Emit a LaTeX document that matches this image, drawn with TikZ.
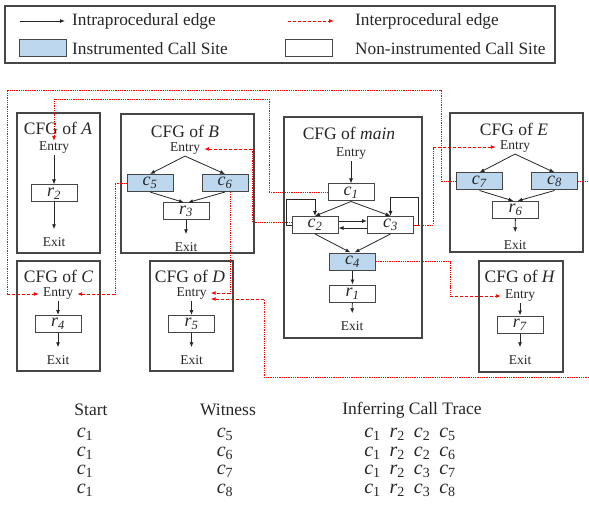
\documentclass[tikz,border=0pt]{standalone}
\usepackage{fontspec}
\setmainfont{Liberation Serif}
\usetikzlibrary{arrows.meta,positioning}
\definecolor{csblue}{RGB}{189,215,238}
\definecolor{framegray}{RGB}{70,70,70}
\newcommand{\boxlab}[2]{\textit{#1}\textsubscript{\textit{#2}}}
\newcommand{\trlab}[2]{\textit{#1}\textsubscript{#2}}
\begin{document}
\begin{tikzpicture}[x=1pt,y=-1pt,
	every node/.style={text=black!85,inner sep=1pt},
	cfg/.style={draw=framegray,line width=1.1pt},
	ttl/.style={font=\fontsize{17.5}{20}\selectfont},
	lbl/.style={font=\fontsize{13.5}{16}\selectfont},
	blk/.style={draw=framegray,line width=1pt,minimum width=46pt,minimum height=17pt,inner sep=0pt,font=\fontsize{18}{18}\selectfont},
	csite/.style={blk,fill=csblue},
	intra/.style={draw=black!85,line width=0.8pt,-{Latex[length=5pt,width=4pt]}},
	toexit/.style={intra,shorten >=7pt},
	inter/.style={draw=red,line width=0.9pt,dash pattern=on 3pt off 2pt,-{Latex[length=5pt,width=4pt]}},
	toentry/.style={inter,shorten >=3pt},
	route/.style={draw=red,line width=0.9pt,dash pattern=on 1pt off 0.8pt},
	leg/.style={font=\fontsize{17.3}{20}\selectfont,anchor=west},
	hdr/.style={font=\fontsize{17.5}{20}\selectfont},
	trc/.style={font=\fontsize{20}{20}\selectfont,inner sep=0pt,text height=8pt,text depth=4pt}
]
\useasboundingbox (0,0) rectangle (589,513);

\draw[cfg] (5,6) rectangle (555,63);
\coordinate (l1a) at (20,21);
\coordinate (l1b) at (65,21);
\draw[intra] (l1a) -- (l1b);
\node[leg] (lgintra) at (71,21) {Intraprocedural edge};
\coordinate (l2a) at (288,21);
\coordinate (l2b) at (334,21);
\draw[inter] (l2a) -- (l2b);
\node[leg] (lginter) at (354,21) {Interprocedural edge};
\node[csite,minimum width=47pt] (lgcs) at (42.5,48.5) {};
\node[leg] (lgins) at (71,49) {Instrumented Call Site};
\node[blk,minimum width=47pt] (lgblk) at (309,48.5) {};
\node[leg] (lgnon) at (354,49) {Non-instrumented Call Site};

\draw[cfg] (17,113) rectangle (100,253);
\node[ttl] (tA) at (58,128) {CFG of \textit{A}};
\node[lbl] (entA) at (54,148) {Entry};
\node[blk] (r2) at (54,193.5) {\boxlab{r}{2}};
\node[lbl] (exA) at (54,242) {Exit};
\draw[intra] (entA) -- (r2);
\draw[toexit] (r2) -- (exA);

\draw[cfg] (121,114) rectangle (254,253);
\node[ttl] (tB) at (185,131) {CFG of \textit{B}};
\node[lbl] (entB) at (185,149) {Entry};
\node[csite] (c5) at (150,183) {\boxlab{c}{5}};
\node[csite] (c6) at (225,183) {\boxlab{c}{6}};
\node[blk] (r3) at (186,211.5) {\boxlab{r}{3}};
\node[lbl] (exB) at (186,247) {Exit};
\draw[intra] (entB.south) -- (c5.north);
\draw[intra] (entB.south) -- (c6.north);
\draw[intra] (c5.south) -- ([xshift=-2pt]r3.north);
\draw[intra] (c6.south) -- ([xshift=2pt]r3.north);
\draw[toexit] (r3) -- (exB);

\draw[cfg] (284,117) rectangle (422,338);
\node[ttl] (tM) at (349,133) {CFG of \textit{main}};
\node[lbl] (entM) at (351,154) {Entry};
\node[blk] (c1) at (351,192.5) {\boxlab{c}{1}};
\node[blk] (c2) at (315,225) {\boxlab{c}{2}};
\node[blk] (c3) at (390.5,225) {\boxlab{c}{3}};
\node[csite] (c4) at (352.5,261.5) {\boxlab{c}{4}};
\node[blk] (r1) at (352.5,293.5) {\boxlab{r}{1}};
\node[lbl] (exM) at (352,326) {Exit};
\draw[intra] (entM) -- (c1);
\draw[intra] (c1.south) -- (c2.north);
\draw[intra] (c1.south) -- (c3.north);
\draw[intra] (c2.west) -- ++(-5,0) |- ([yshift=17pt]c2.north) -- (c2.north);
\draw[intra] (c3.east) -- ++(4,0) |- ([yshift=19pt]c3.north) -- (c3.north);
\draw[intra] ([yshift=4pt]c2.east) -- ([yshift=4pt]c3.west);
\draw[intra] ([yshift=-3pt]c3.west) -- ([yshift=-3pt]c2.east);
\draw[intra] (c2.south) -- ([xshift=-2pt]c4.north);
\draw[intra] (c3.south) -- ([xshift=2pt]c4.north);
\draw[intra] (c4) -- (r1);
\draw[toexit] (r1) -- (exM);

\draw[cfg] (450,113) rectangle (583,252);
\node[ttl] (tE) at (514,129) {CFG of \textit{E}};
\node[lbl] (entE) at (515,147) {Entry};
\node[csite] (c7) at (479.5,181.5) {\boxlab{c}{7}};
\node[csite] (c8) at (554.5,181.5) {\boxlab{c}{8}};
\node[blk] (r6) at (515.5,210) {\boxlab{r}{6}};
\node[lbl] (exE) at (515,245) {Exit};
\draw[intra] (entE.south) -- (c7.north);
\draw[intra] (entE.south) -- (c8.north);
\draw[intra] (c7.south) -- ([xshift=-2pt]r6.north);
\draw[intra] (c8.south) -- ([xshift=2pt]r6.north);
\draw[toexit] (r6) -- (exE);

\draw[cfg] (17,261) rectangle (100,371);
\node[ttl] (tC) at (58.5,276) {CFG of \textit{C}};
\node[lbl] (entC) at (58,294) {Entry};
\node[blk] (r4) at (58,324) {\boxlab{r}{4}};
\node[lbl] (exC) at (58,360) {Exit};
\draw[intra] (entC) -- (r4);
\draw[toexit] (r4) -- (exC);

\draw[cfg] (150,261) rectangle (233,371);
\node[ttl] (tD) at (190,276) {CFG of \textit{D}};
\node[lbl] (entD) at (191.5,294) {Entry};
\node[blk] (r5) at (191.5,324) {\boxlab{r}{5}};
\node[lbl] (exD) at (191.5,360) {Exit};
\draw[intra] (entD) -- (r5);
\draw[toexit] (r5) -- (exD);

\draw[cfg] (479,261) rectangle (563,372);
\node[ttl] (tH) at (520,276) {CFG of \textit{H}};
\node[lbl] (entH) at (520,296) {Entry};
\node[blk] (r7) at (520,324.5) {\boxlab{r}{7}};
\node[lbl] (exH) at (520,360) {Exit};
\draw[intra] (entH) -- (r7);
\draw[toexit] (r7) -- (exH);

\coordinate (kB) at (252,149);
\coordinate (kE) at (433,147);
\coordinate (kC1) at (7,294);
\coordinate (kC2) at (115,294);
\coordinate (kD1) at (230,293);
\coordinate (kD2) at (264,299);
\coordinate (kH) at (450,296);
\draw[route,-{Latex[length=5pt,width=4pt]}] (c1.west) -| (269,99) -| (entA.north);
\draw[route] ([yshift=3pt]c2.west) -| (kB);
\draw[toentry] (kB) -- (kB -| entB.east);
\draw[route] (c3.east) -| (kE);
\draw[toentry] (kE) -- (kE -| entE.west);
\draw[route] (c7.west) -| (441,90) -| (kC1);
\draw[toentry] (kC1) -- (kC1 -| entC.west);
\draw[route] (c5.west) -| (kC2);
\draw[toentry] (kC2) -- (kC2 -| entC.east);
\draw[route] ([xshift=5pt]c6.south) -- (kD1);
\draw[toentry] (kD1) -- (kD1 -| entD.east);
\draw[route] (c8.east) -| (592,377) -| (kD2);
\draw[toentry] (kD2) -- (kD2 -| entD.east);
\draw[route] (c4.east) -| (kH);
\draw[toentry] (kH) -- (kH -| entH.west);

\node[hdr] (hstart) at (91,410) {Start};
\node[hdr] (hwit) at (228,410) {Witness};
\node[hdr] (htrace) at (412,410) {Inferring Call Trace};
\foreach \w/\a [count=\i] in {5/2,6/2,7/3,8/3}{
	\node[trc] (st\i) at (85,417+18.5*\i) {\trlab{c}{1}};
	\node[trc] (wt\i) at (225,417+18.5*\i) {\trlab{c}{\w}};
	\node[trc] (tr\i) at (410,417+18.5*\i) {\trlab{c}{1}\hspace{9pt}\trlab{r}{2}\hspace{9pt}\trlab{c}{\a}\hspace{9pt}\trlab{c}{\w}};
}
\end{tikzpicture}
\end{document}
